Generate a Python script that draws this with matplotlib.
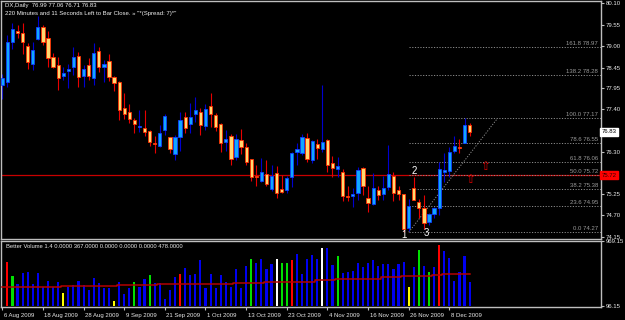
import numpy as np
import matplotlib
matplotlib.use("Agg")
import matplotlib.pyplot as plt
import matplotlib.transforms as mtransforms

# ---------------- data ----------------
opens = [78.01, 78.09, 79.11, 79.37, 79.34, 79.01, 78.55, 79.18, 79.49, 79.21,
         78.73, 78.52, 78.24, 78.37, 78.47, 78.75, 78.24, 78.52, 78.19, 78.88,
         78.47, 78.63, 78.22, 78.09, 77.43, 77.33, 77.13, 76.94, 76.92, 76.85,
         76.52, 76.46, 76.87, 76.69, 76.26, 76.69, 77.20, 77.02, 77.28, 77.33,
         76.97, 77.48, 77.25, 77.02, 76.57, 76.72, 76.18, 76.62, 76.44, 76.13,
         75.69, 75.57, 75.75, 75.37, 75.78, 75.37, 75.34, 75.68, 76.31, 76.29,
         76.67, 76.11, 76.51, 76.39, 76.62, 76.03, 75.88, 75.80, 75.18, 75.19,
         75.27, 75.91, 75.14, 74.99, 75.34, 75.24, 75.42, 75.70, 75.34, 75.24,
         74.38, 75.40, 75.04, 74.89, 74.53, 74.73, 74.89, 75.80, 75.83, 76.34,
         76.44, 76.54, 76.99]
highs = [78.29, 79.29, 79.59, 79.54, 79.59, 79.08, 79.11, 79.77, 79.54, 79.39,
         78.83, 78.73, 78.47, 78.55, 78.98, 78.85, 78.52, 78.70, 79.08, 78.98,
         78.65, 78.80, 78.24, 78.12, 77.81, 77.53, 77.18, 77.38, 77.38, 76.87,
         76.72, 77.00, 77.28, 76.70, 76.74, 77.33, 77.33, 77.56, 77.71, 77.43,
         77.53, 77.81, 77.30, 77.05, 76.87, 76.77, 76.77, 76.90, 76.54, 76.14,
         75.98, 76.16, 76.11, 75.98, 75.96, 75.73, 75.70, 76.31, 76.54, 76.77,
         76.79, 76.62, 76.64, 78.01, 76.63, 76.21, 76.18, 75.88, 75.45, 75.40,
         75.93, 75.93, 75.45, 75.78, 75.45, 75.70, 76.49, 75.80, 75.45, 75.25,
         75.12, 75.68, 75.12, 75.22, 74.76, 74.91, 76.06, 76.29, 76.44, 76.72,
         76.64, 77.17, 77.06]
lows = [77.66, 77.96, 78.93, 79.21, 78.80, 78.42, 78.40, 79.16, 79.03, 78.47,
        78.45, 77.89, 78.14, 77.94, 78.27, 77.96, 77.96, 78.14, 78.01, 78.35,
        78.09, 78.12, 77.86, 77.13, 77.15, 77.05, 76.79, 76.82, 76.72, 76.46,
        76.29, 76.44, 76.74, 76.29, 76.11, 76.34, 76.79, 76.79, 77.07, 76.74,
        76.87, 76.95, 76.85, 76.31, 76.34, 75.98, 76.11, 76.26, 75.98, 75.57,
        75.45, 75.55, 75.45, 75.32, 75.14, 75.27, 75.27, 75.42, 75.98, 76.24,
        76.06, 76.03, 76.13, 76.31, 75.80, 75.68, 75.68, 75.07, 75.07, 74.91,
        75.09, 75.22, 74.79, 74.96, 75.09, 75.09, 75.34, 75.07, 75.09, 74.27,
        74.30, 75.08, 74.63, 74.35, 74.46, 74.63, 74.71, 75.55, 75.68, 76.29,
        76.29, 76.54, 76.71]
closes = [78.19, 79.11, 79.44, 79.35, 79.11, 78.60, 78.90, 79.49, 79.11, 78.70,
          78.47, 78.19, 78.32, 78.42, 78.73, 78.22, 78.42, 78.24, 78.83, 78.47,
          78.55, 78.22, 78.07, 77.38, 77.28, 77.15, 77.02, 76.96, 76.82, 76.57,
          76.51, 76.79, 77.23, 76.39, 76.69, 77.13, 76.92, 77.20, 77.38, 77.00,
          77.41, 77.28, 76.95, 76.54, 76.64, 76.13, 76.64, 76.44, 76.06, 75.68,
          75.67, 75.80, 75.50, 75.70, 75.27, 75.29, 75.65, 76.29, 76.39, 76.69,
          76.13, 76.59, 76.41, 76.57, 75.98, 75.91, 75.96, 75.19, 75.16, 75.24,
          75.85, 75.45, 75.02, 75.40, 75.22, 75.40, 75.75, 75.27, 75.24, 74.35,
          74.94, 75.09, 74.89, 74.51, 74.73, 74.89, 75.88, 75.85, 76.31, 76.46,
          76.41, 77.00, 76.83]

volumes = [np.nan, 660, 451, 328, 496, 506, 328, 492, 278, 372,
           288, 358, 199, 278, 308, 377, 318, 248, 422, 348,
           273, 268, 75, 358, 174, 273, 353, 288, 397, 462,
           338, 348, 100, 243, 427, 481, 571, 467, 472, 690,
           273, 481, 273, 457, 353, 283, 547, 273, 600, 700,
           641, 705, 551, 630, 696, 641, 641, 685, 775, 479,
           698, 760, 696, 860, 860, 611, 745, 487, 507, 517,
           641, 576, 636, 685, 600, 626, 626, 547, 626, 656,
           283, 576, 834, 596, 507, 576, 913, 820, 715, 368,
           507, 745, 367]
vol_types = ("brgbbbbbbb" "bbybbbbbbb" "bbybbbgbbg" "bbbbbrbbbb" "bbbbbbbbbg"
             "bbbbwggrbb" "bbbwbbgbbb" "bbbbbbbbbb" "ybgbgbrbbb" "bbb")
vol_ma = [288] * 12 + [305] * 11 + [313] * 8 + [323] * 7 + [328] * 8 + \
         [338] * 6 + [353] * 7 + [365] * 3 + [382] * 4 + [397] * 4 + \
         [407] * 5 + [427] * 4 + [442] * 6 + [462] * 2 + [478] * 6

date_labels = ["6 Aug 2009", "18 Aug 2009", "28 Aug 2009", "9 Sep 2009",
               "21 Sep 2009", "1 Oct 2009", "13 Oct 2009", "23 Oct 2009",
               "4 Nov 2009", "16 Nov 2009", "26 Nov 2009", "8 Dec 2009"]
date_label_bars = [0, 8, 16, 24, 32, 40, 48, 56, 64, 72, 80, 88]

price_ticks = [80.10, 79.55, 79.00, 78.45, 77.95, 77.40, 76.85, 76.30,
               75.80, 75.25, 74.70, 74.15]
hidden_ticks = [76.85, 75.80]   # covered by the price boxes in the reference
last_price = 76.83
hline_price = 75.72

fib_levels = ["0.0", "23.6", "38.2", "50.0", "61.8", "78.6", "100.0", "138.2", "161.8"]
fib_prices = [74.27, 74.95, 75.38, 75.72, 76.06, 76.55, 77.17, 78.28, 78.97]
fib_start_bar = 80
trend_bars = [80, 97.5]
trend_prices = [74.27, 77.17]

wave_labels = ["1", "2", "3"]
wave_bars = [79.1, 81.1, 83.4]
wave_prices = [74.20, 75.82, 74.25]

arrow_bars = [92, 95]
arrow_prices = [75.60, 75.93]

header1 = "DX,Daily  76.99 77.06 76.71 76.83"
header2 = "220 Minutes and 11 Seconds Left to Bar Close. \u00bb \"*(Spread: 7)*\""
vol_title = "Better Volume 1.4 0.0000 367.0000 0.0000 0.0000 0.0000 478.0000"
vol_max_label = "969.15"
vol_min_label = "96.15"

# ---------------- layout ----------------
W, H = 625, 320
plt.rcParams['font.family'] = ['Liberation Sans', 'DejaVu Sans']
fig = plt.figure(figsize=(W / 100, H / 100), dpi=100, facecolor='black')

def fax(x0, y0, x1, y1):
    return [x0 / W, 1 - y1 / H, (x1 - x0) / W, (y1 - y0) / H]

ax = fig.add_axes(fax(0.5, 1, 600.5, 239))
axv = fig.add_axes(fax(0.5, 241, 600.5, 307))
for a in (ax, axv):
    a.set_facecolor('black')
    for s in a.spines.values():
        s.set_color('#BEBEBE')
        s.set_linewidth(1.0)

xmin, xmax = -0.354, 117.76
n = len(opens)
x = np.arange(n)
o = np.array(opens); c = np.array(closes)
h = np.array(highs); l = np.array(lows)
bull = c >= o

# wicks
ax.vlines(x[bull], l[bull], h[bull], color='#0000D0', lw=0.8, zorder=2)
ax.vlines(x[~bull], l[~bull], h[~bull], color='#E80000', lw=0.8, zorder=2)
# bodies
bot = np.minimum(o, c)
hgt = np.maximum(np.abs(c - o), 0.03)
ax.bar(x[bull], hgt[bull], bottom=bot[bull], width=0.64, color='#10A8FF',
       edgecolor='#1040FF', linewidth=0.6, zorder=3)
ax.bar(x[~bull], hgt[~bull], bottom=bot[~bull], width=0.64, color='#FFD870',
       edgecolor='#FF3000', linewidth=0.6, zorder=3)

ax.set_xlim(xmin, xmax)
ax.set_ylim(74.099, 80.151)

# horizontal red line
ax.axhline(hline_price, color='#C80000', lw=0.9, zorder=1)

# fib lines
ax.hlines(fib_prices, fib_start_bar, xmax, colors='#8C8C8C', linestyles=(0, (1.2, 1.6)),
          lw=0.7, zorder=1)
tr = mtransforms.blended_transform_factory(ax.transAxes, ax.transData)
for lv, pr in zip(fib_levels, fib_prices):
    ax.text(0.9958, pr + 0.025, f"{lv} {pr:.2f}", transform=tr, ha='right', va='bottom',
            fontsize=4.3, color='#9A9A9A', zorder=4)
ax.plot(trend_bars, trend_prices, color='#8C8C8C', lw=0.7, ls=(0, (1.2, 1.6)), zorder=1)

# wave labels
for t, bx, pr in zip(wave_labels, wave_bars, wave_prices):
    ax.text(bx, pr, t, ha='center', va='center', fontsize=7, color='white', zorder=5)

# arrows
for bx, pr in zip(arrow_bars, arrow_prices):
    ax.text(bx, pr, "\u21e7", ha='center', va='center', fontsize=8.5, color='#E00000',
            family='DejaVu Sans', zorder=5)

# price axis
ax.yaxis.tick_right()
ax.set_yticks(price_ticks)
ax.set_yticklabels(["" if p in hidden_ticks else f"{p:.2f}" for p in price_ticks])
ax.tick_params(axis='y', length=2.5, width=0.8, color='#BEBEBE', labelcolor='#E8E8E8',
               labelsize=4.3, pad=1)
ax.set_xticks([])
ax.text(1.0013, last_price, f"{last_price:.2f}", transform=tr, ha='left', va='center',
        fontsize=4.3, color='black', clip_on=False, zorder=10,
        bbox=dict(boxstyle='square,pad=0.25', fc='white', ec='white'))
ax.text(1.0013, hline_price, f"{hline_price:.2f}", transform=tr, ha='left', va='center',
        fontsize=4.3, color='#300000', clip_on=False, zorder=10,
        bbox=dict(boxstyle='square,pad=0.25', fc='#FF0000', ec='#FF0000'))

# header text
fig.text(5 / W, 1 - 6 / H, header1, fontsize=4.3, color='#F0F0F0', va='center', ha='left')
fig.text(5 / W, 1 - 13.5 / H, header2, fontsize=4.3, color='#F0F0F0', va='center', ha='left')

# ---------------- volume ----------------
cmap = {'b': '#0000F0', 'r': '#FF0000', 'g': '#00E000', 'y': '#FFFF00', 'w': '#FFFFFF'}
vcols = [cmap[t] for t in vol_types]
axv.bar(x, volumes, width=0.42, color=vcols, zorder=2)
axv.step(x, vol_ma, where='mid', color='#B40000', lw=1.1, zorder=3)
axv.set_xlim(xmin, xmax)
axv.set_ylim(-12, 969.15)
axv.yaxis.tick_right()
axv.set_yticks([969.15, 0])
axv.set_yticklabels([vol_max_label, vol_min_label])
axv.tick_params(axis='y', length=2.5, width=0.8, color='#BEBEBE', labelcolor='#E8E8E8',
                labelsize=4.3, pad=1)
axv.text(5 / 600, 0.91, vol_title, transform=axv.transAxes, fontsize=4.2,
         color='#E8E8E8', ha='left', va='center')

axv.set_xticks(date_label_bars)
axv.set_xticklabels(date_labels, ha='left')
axv.tick_params(axis='x', length=2.5, width=0.8, color='#BEBEBE', labelcolor='#E8E8E8',
                labelsize=4.3, pad=1.5)
for lab in axv.get_xticklabels():
    lab.set_transform(lab.get_transform() + mtransforms.ScaledTranslation(1.5 / 100, 0, fig.dpi_scale_trans))

fig.savefig("out.png", dpi=100, facecolor='black')
